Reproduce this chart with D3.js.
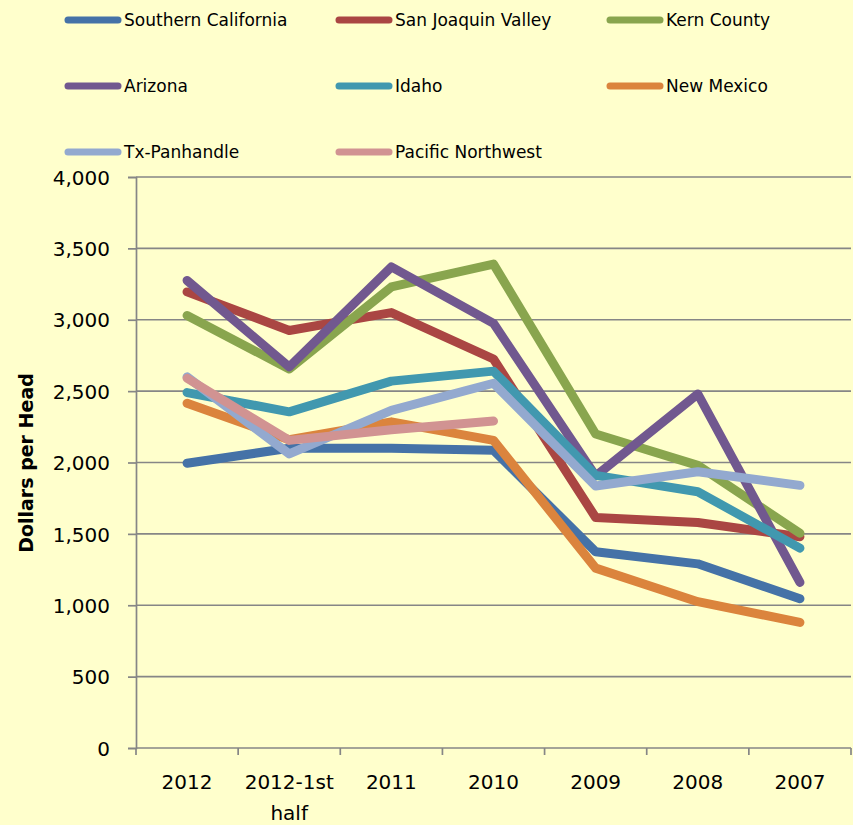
<!DOCTYPE html>
<html>
<head>
<meta charset="utf-8">
<script src="https://cdn.jsdelivr.net/npm/d3@7"></script>
<style>
  html, body { margin: 0; padding: 0; background: #ffffcc; }
  svg { display: block; font-family: "DejaVu Sans", sans-serif; }
</style>
</head>
<body>
<div id="chart"></div>
<script>
// Dollars per head by region, 2012 back to 2007

const categories = ["2012", "2012-1st half", "2011", "2010", "2009", "2008", "2007"];
const seriesNames = ["Southern California", "San Joaquin Valley", "Kern County", "Arizona",
  "Idaho", "New Mexico", "Tx-Panhandle", "Pacific Northwest"];
const seriesColors = ["#4572a7", "#aa4643", "#89a54e", "#71588f", "#4198af", "#db843d", "#93a9cf", "#d19392"];

const southernCalifornia = [1995, 2100, 2100, 2085, 1375, 1290, 1045];
const sanJoaquinValley = [3195, 2925, 3050, 2725, 1615, 1580, 1480];
const kernCounty = [3030, 2655, 3230, 3390, 2200, 1980, 1505];
const arizona = [3275, 2670, 3370, 2975, 1905, 2480, 1160];
const idaho = [2490, 2355, 2570, 2640, 1910, 1795, 1400];
const newMexico = [2415, 2160, 2285, 2155, 1260, 1025, 880];
const txPanhandle = [2600, 2060, 2365, 2555, 1835, 1935, 1840];
const pacificNorthwest = [2590, 2155, 2230, 2290, null, null, null];

const yTicks = [0, 500, 1000, 1500, 2000, 2500, 3000, 3500, 4000];

const allValues = [southernCalifornia, sanJoaquinValley, kernCounty, arizona,
  idaho, newMexico, txPanhandle, pacificNorthwest];
const series = seriesNames.map((name, i) => ({ name, color: seriesColors[i], values: allValues[i] }));

const width = 853, height = 825;
const plot = { left: 136, right: 851, top: 177, bottom: 748 };
const gridColor = "#868686";

const svg = d3.select("#chart")
  .append("svg")
  .attr("width", width)
  .attr("height", height);

svg.append("rect")
  .attr("width", width)
  .attr("height", height)
  .attr("fill", "#ffffcc");

const x = d3.scalePoint()
  .domain(categories)
  .range([plot.left, plot.right])
  .padding(0.5);

const y = d3.scaleLinear()
  .domain([0, 4000])
  .range([plot.bottom, plot.top]);

// horizontal gridlines
svg.append("g")
  .selectAll("line")
  .data(yTicks.filter(d => d > 0))
  .join("line")
  .attr("x1", plot.left)
  .attr("x2", plot.right)
  .attr("y1", d => y(d))
  .attr("y2", d => y(d))
  .attr("stroke", gridColor)
  .attr("stroke-width", 1.7);

// y axis
const yAxis = svg.append("g")
  .attr("transform", `translate(${plot.left},0)`)
  .call(d3.axisLeft(y).tickValues(yTicks).tickSize(8).tickPadding(18).tickFormat(d3.format(",")));
yAxis.select(".domain").attr("stroke", gridColor).attr("stroke-width", 1.7);
yAxis.selectAll(".tick line").attr("stroke", gridColor).attr("stroke-width", 1.7);
yAxis.selectAll(".tick text")
  .attr("font-size", "20px")
  .attr("font-family", "DejaVu Sans, sans-serif")
  .attr("fill", "#000")
  .attr("dy", "0.36em");

// x axis
const band = (plot.right - plot.left) / categories.length;
const xg = svg.append("g");
xg.append("line")
  .attr("x1", plot.left).attr("x2", plot.right)
  .attr("y1", plot.bottom).attr("y2", plot.bottom)
  .attr("stroke", gridColor).attr("stroke-width", 1.7);
xg.selectAll("line.tick")
  .data(d3.range(categories.length + 1))
  .join("line")
  .attr("class", "tick")
  .attr("x1", i => plot.left + i * band)
  .attr("x2", i => plot.left + i * band)
  .attr("y1", plot.bottom)
  .attr("y2", plot.bottom + 7)
  .attr("stroke", gridColor).attr("stroke-width", 1.7);

const xLabels = xg.selectAll("text")
  .data(categories)
  .join("text")
  .attr("x", d => x(d))
  .attr("y", 789)
  .attr("text-anchor", "middle")
  .attr("font-size", "20px")
  .attr("fill", "#000");
xLabels.each(function(d) {
  const parts = d.split(" ");
  const t = d3.select(this);
  parts.forEach((p, i) => {
    t.append("tspan")
      .attr("x", x(d))
      .attr("dy", i === 0 ? 0 : 31)
      .text(p);
  });
});

// y axis title
svg.append("text")
  .attr("transform", `translate(33,463) rotate(-90)`)
  .attr("text-anchor", "middle")
  .attr("font-size", "19px")
  .attr("font-weight", "bold")
  .attr("fill", "#000")
  .text("Dollars per Head");

// series lines
const line = d3.line()
  .defined(d => d.v != null)
  .x(d => x(d.c))
  .y(d => y(d.v));

svg.append("g")
  .selectAll("path")
  .data(series)
  .join("path")
  .attr("d", s => line(s.values.map((v, i) => ({ c: categories[i], v }))))
  .attr("fill", "none")
  .attr("stroke", s => s.color)
  .attr("stroke-width", 9)
  .attr("stroke-linejoin", "round")
  .attr("stroke-linecap", "round");

// legend, 3 columns
const legendCols = [68, 339, 610];
const legendRows = [20, 86, 152];
const legend = svg.append("g")
  .selectAll("g")
  .data(series)
  .join("g")
  .attr("transform", (s, i) => `translate(${legendCols[i % 3]},${legendRows[Math.floor(i / 3)]})`);

legend.append("line")
  .attr("x1", 0).attr("x2", 50)
  .attr("y1", 0).attr("y2", 0)
  .attr("stroke", s => s.color)
  .attr("stroke-width", 7)
  .attr("stroke-linecap", "round");

legend.append("text")
  .attr("x", 56)
  .attr("y", 6)
  .attr("font-size", "17px")
  .attr("fill", "#000")
  .text(s => s.name);
</script>
</body>
</html>
